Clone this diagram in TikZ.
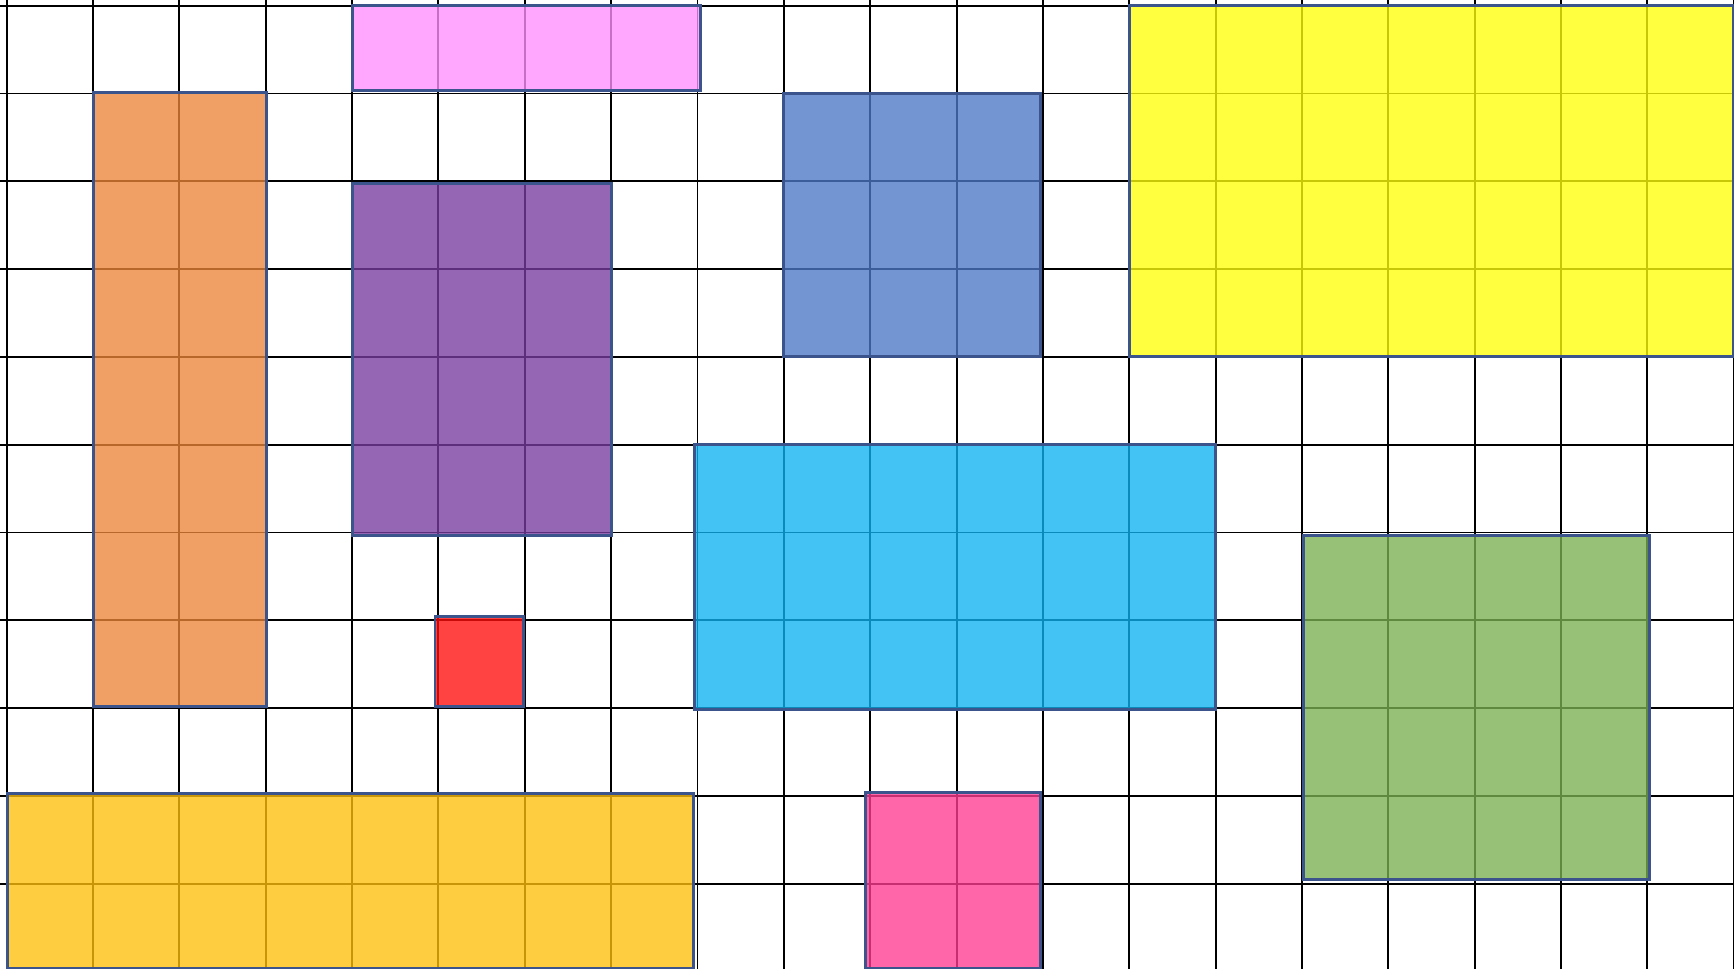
\documentclass[tikz,border=0pt]{standalone}
\usepackage{xcolor}
\usepackage{tikz}

\definecolor{lilac}{RGB}{255,141,255}
\definecolor{apricot}{RGB}{236,133,56}
\definecolor{violet}{RGB}{118,59,159}
\definecolor{steel}{RGB}{76,120,197}
\definecolor{lemon}{RGB}{255,255,10}
\definecolor{sky}{RGB}{13,178,240}
\definecolor{tomato}{RGB}{255,14,14}
\definecolor{leaf}{RGB}{122,176,81}
\definecolor{amber}{RGB}{255,191,10}
\definecolor{rose}{RGB}{255,59,146}
\definecolor{rim}{RGB}{59,85,140}

\begin{document}
\begin{tikzpicture}[
    x={(0.8635cm,0)}, y={(0,-0.878cm)},
    gridline/.style={black, line width=0.55pt},
    block/.style={draw=rim, line width=0.85pt, fill opacity=0.78}
]

\clip (-0.0776,-0.065) rectangle (20.0035,10.971);

% Grid
\foreach \i in {0,...,20}
    \draw[gridline] (\i,-0.2) -- (\i,11.2);
\foreach \j in {0,...,11}
    \draw[gridline] (-0.2,\j) -- (20.2,\j);

% Blocks
\draw[block, fill=lilac] (4,0) rectangle (8.04,0.97);
\draw[block, fill=apricot] (1,0.99) rectangle (3.01,7.98);
\draw[block, fill=violet] (4,2.03) rectangle (7,6.03);
\draw[block, fill=steel] (9,1) rectangle (11.97,3.99);
\draw[block, fill=lemon] (13,0) rectangle (20,3.99);
\draw[block, fill=sky] (7.965,5) rectangle (14,8.02);
\draw[block, fill=tomato] (4.96,6.96) rectangle (5.98,7.98);
\draw[block, fill=leaf] (15.02,6.03) rectangle (19.02,9.95);
\draw[block, fill=amber] (0.01,8.97) rectangle (7.95,10.96);
\draw[block, fill=rose] (9.95,8.96) rectangle (11.97,10.96);

\end{tikzpicture}
\end{document}
